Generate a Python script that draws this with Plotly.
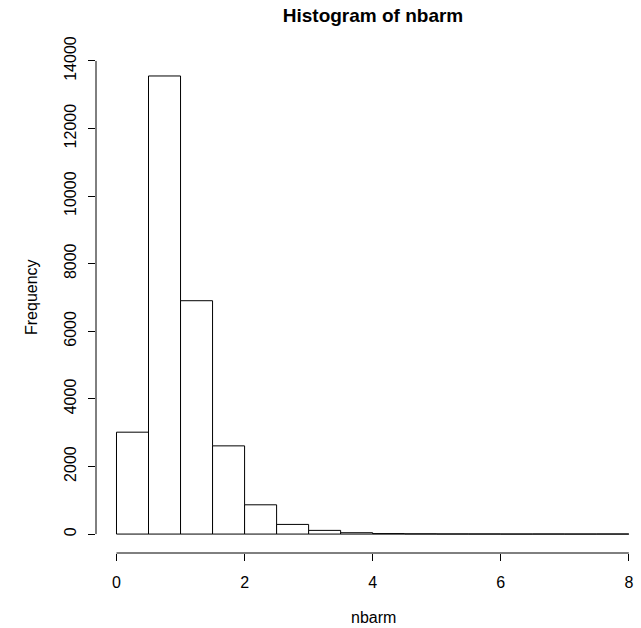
import plotly.graph_objects as go

bin_left = [0, 0.5, 1, 1.5, 2, 2.5, 3, 3.5, 4, 4.5, 5, 5.5, 6, 6.5, 7, 7.5]
counts = [3015, 13555, 6905, 2610, 866, 286, 109, 40, 14, 7, 4, 3, 1, 2, 1, 2]
bin_width = 0.5
x_ticks = [0, 2, 4, 6, 8]
y_ticks = [0, 2000, 4000, 6000, 8000, 10000, 12000, 14000]
y_tick_labels = [str(v) for v in y_ticks]
x_tick_labels = [str(v) for v in x_ticks]

centers = [b + bin_width / 2 for b in bin_left]
font = "Liberation Sans, Arial, sans-serif"

fig = go.Figure(go.Bar(
    x=centers, y=counts, width=[bin_width] * len(centers),
    marker=dict(color="white", line=dict(color="black", width=1)),
    hoverinfo="x+y",
))

W, H = 641, 628
L, R, T, B = 96, 0, 42, 75

fig.update_layout(
    width=W, height=H,
    margin=dict(l=L, r=R, t=T, b=B, autoexpand=False),
    paper_bgcolor="white", plot_bgcolor="white",
    font=dict(family=font, size=16, color="black"),
    showlegend=False,
    title=dict(text="<b>Histogram of nbarm</b>", xref="container", x=373 / W, xanchor="center",
               yref="container", y=1 - 15 / H, yanchor="middle", font=dict(size=19, family=font)),
    xaxis=dict(range=[-0.32, 8.19], tickvals=x_ticks, ticktext=x_tick_labels,
               ticks="outside", ticklen=7, tickcolor="black", tickwidth=1,
               showgrid=False, zeroline=False, showline=False, automargin=False,
               ticklabelstandoff=8, tickfont=dict(size=16)),
    yaxis=dict(range=[-560, 14560], tickvals=y_ticks, ticktext=y_tick_labels,
               ticks="outside", ticklen=7, tickcolor="black", tickwidth=1,
               showgrid=False, zeroline=False, showline=False, tickangle=-90, automargin=False,
               ticklabelstandoff=6, tickfont=dict(size=16)),
    shapes=[
        dict(type="line", xref="x", yref="paper", x0=x_ticks[0], x1=x_ticks[-1], y0=0, y1=0,
             line=dict(color="black", width=1)),
        dict(type="line", xref="paper", yref="y", x0=0, x1=0, y0=y_ticks[0], y1=y_ticks[-1],
             line=dict(color="black", width=1)),
    ],
    annotations=[
        dict(text="nbarm", xref="paper", yref="paper", x=(373 - L) / (W - L - R), y=-(617 - (H - B)) / (H - T - B),
             xanchor="center", yanchor="middle", showarrow=False, font=dict(size=16)),
        dict(text="Frequency", xref="paper", yref="paper", x=-(L - 31) / (W - L - R), y=((H - B) - 297) / (H - T - B),
             xanchor="center", yanchor="middle", textangle=-90, showarrow=False, font=dict(size=16)),
    ],
)

fig.write_html("out.html", config={"displayModeBar": False},
               post_script="document.body.style.margin='0';document.body.style.overflow='hidden';")
